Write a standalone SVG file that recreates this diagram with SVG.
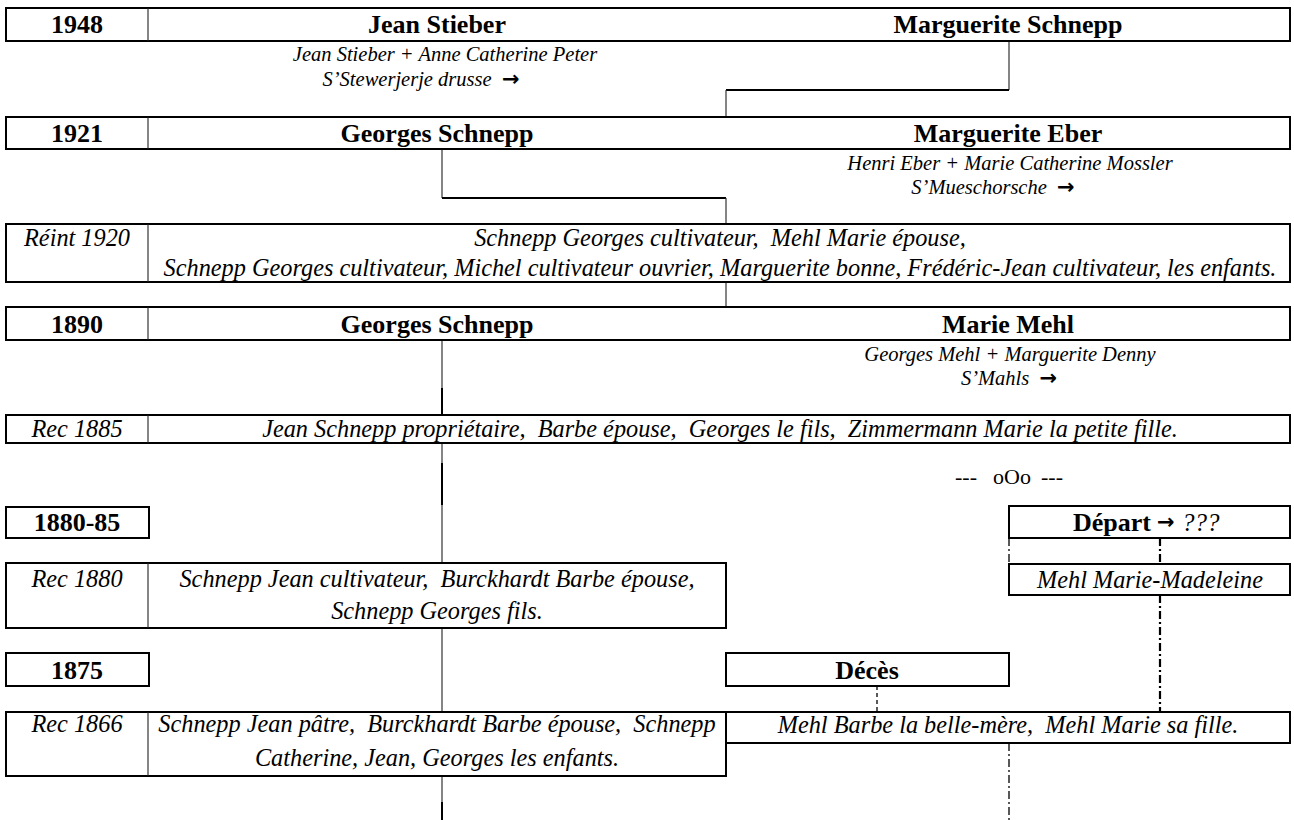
<svg xmlns="http://www.w3.org/2000/svg" width="1294" height="820" viewBox="0 0 1294 820" xml:space="preserve">
<style>
text{font-family:"Liberation Serif","Times New Roman",serif;fill:#000;white-space:pre}
.h{font-size:26px;font-weight:bold;text-anchor:middle}
.i{font-size:24.3px;font-style:italic;text-anchor:middle}
.p{font-size:20.5px;font-style:italic;text-anchor:middle}
.ar{font-family:"DejaVu Sans",sans-serif;font-style:normal;font-size:21px;font-weight:bold}
.box{fill:#fff;stroke:#000;stroke-width:2}
.dv{stroke:#222;stroke-width:1.1}
.tn{stroke:#333;stroke-width:1.2;fill:none}
.tk{stroke:#000;stroke-width:2;fill:none}
.dd{stroke:#000;stroke-width:1.3;stroke-dasharray:8 3 2 3;fill:none}
.ddk{stroke:#000;stroke-width:2.2;stroke-dasharray:8 3 2 3;fill:none}
.ds{stroke:#000;stroke-width:1.3;stroke-dasharray:4 3;fill:none}
</style>
<g id="connectors">
<path class="tn" d="M1009 41V90"/><path class="tk" d="M726 90H1009"/><path class="tn" d="M726 90V117"/>
<path class="tn" d="M442 149V198"/><path class="tk" d="M442 198H726"/><path class="tn" d="M726 198V224"/>
<path class="tn" d="M726 282V307"/>
<path class="tn" d="M442 340V388"/><path class="tk" d="M442 388V415"/>
<path class="tn" d="M442 443V463"/><path class="tk" d="M442 463V505"/><path class="tn" d="M442 505V563"/>
<path class="tn" d="M442 628V712"/>
<path class="tn" d="M442 776V802"/><path class="tk" d="M442 802V820"/>
<path class="dd" d="M1009 538V564"/><path class="ddk" d="M1160 538V564"/>
<path class="ddk" d="M1160 595V712"/>
<path class="ds" d="M877 686V712"/>
<path class="dd" d="M1009 743V820"/>
</g>
<g id="row-1948">
<rect class="box" x="6" y="8" width="1284" height="33"/><path class="dv" d="M148 8V41"/>
<text class="h" x="77" y="33">1948</text>
<text class="h" x="437" y="33">Jean Stieber</text>
<text class="h" x="1008" y="33">Marguerite Schnepp</text>
</g>
<g id="parents-stieber">
<text class="p" x="445" y="61">Jean Stieber + Anne Catherine Peter</text>
<text class="p" x="421" y="86">S’Stewerjerje drusse  <tspan class="ar">→</tspan></text>
</g>
<g id="row-1921">
<rect class="box" x="6" y="117" width="1284" height="32"/><path class="dv" d="M148 117V149"/>
<text class="h" x="77" y="142">1921</text>
<text class="h" x="437" y="142">Georges Schnepp</text>
<text class="h" x="1008" y="142">Marguerite Eber</text>
</g>
<g id="parents-eber">
<text class="p" x="1010" y="170">Henri Eber + Marie Catherine Mossler</text>
<text class="p" x="993" y="194">S’Mueschorsche  <tspan class="ar">→</tspan></text>
</g>
<g id="reint-1920">
<rect class="box" x="6" y="224" width="1284" height="58"/><path class="dv" d="M148 224V282"/>
<text class="i" x="77" y="246">Réint 1920</text>
<text class="i" x="720" y="246">Schnepp Georges cultivateur,  Mehl Marie épouse,</text>
<text class="i" x="720" y="276">Schnepp Georges cultivateur, Michel cultivateur ouvrier, Marguerite bonne, Frédéric-Jean cultivateur, les enfants.</text>
</g>
<g id="row-1890">
<rect class="box" x="6" y="307" width="1284" height="33"/><path class="dv" d="M148 307V340"/>
<text class="h" x="77" y="333">1890</text>
<text class="h" x="437" y="333">Georges Schnepp</text>
<text class="h" x="1008" y="333">Marie Mehl</text>
</g>
<g id="parents-mehl">
<text class="p" x="1010" y="361">Georges Mehl + Marguerite Denny</text>
<text class="p" x="1009" y="385">S’Mahls  <tspan class="ar">→</tspan></text>
</g>
<g id="rec-1885">
<rect class="box" x="6" y="415" width="1284" height="28"/><path class="dv" d="M148 415V443"/>
<text class="i" x="77" y="437">Rec 1885</text>
<text class="i" x="720" y="437">Jean Schnepp propriétaire,  Barbe épouse,  Georges le fils,  Zimmermann Marie la petite fille.</text>
</g>
<g id="separator">
<text x="966" y="484" font-size="22" text-anchor="middle">---</text>
<text x="1012" y="484" font-size="22" text-anchor="middle">oOo</text>
<text x="1052" y="484" font-size="22" text-anchor="middle">---</text>
</g>
<g id="row-1880-85">
<rect class="box" x="6" y="507" width="143" height="31"/>
<text class="h" x="77" y="531">1880-85</text>
</g>
<g id="depart">
<rect class="box" x="1009" y="506" width="281" height="32"/>
<text x="1073" y="531" font-size="26" font-weight="bold">Départ</text>
<text class="ar" x="1157" y="529">→</text>
<text x="1182" y="531" font-size="25" font-style="italic">???</text>
</g>
<g id="rec-1880">
<rect class="box" x="6" y="563" width="720" height="65"/><path class="dv" d="M148 563V628"/>
<text class="i" x="77" y="587">Rec 1880</text>
<text class="i" x="437" y="587">Schnepp Jean cultivateur,  Burckhardt Barbe épouse,</text>
<text class="i" x="437" y="619">Schnepp Georges fils.</text>
</g>
<g id="marie-madeleine">
<rect class="box" x="1009" y="564" width="281" height="31"/>
<text class="i" x="1150" y="588">Mehl Marie-Madeleine</text>
</g>
<g id="row-1875">
<rect class="box" x="6" y="653" width="143" height="33"/>
<text class="h" x="77" y="679">1875</text>
</g>
<g id="deces">
<rect class="box" x="726" y="653" width="283" height="33"/>
<text class="h" x="867" y="679">Décès</text>
</g>
<g id="rec-1866">
<rect class="box" x="6" y="712" width="720" height="64"/><path class="dv" d="M148 712V776"/>
<text class="i" x="77" y="732">Rec 1866</text>
<text class="i" x="437" y="732">Schnepp Jean pâtre,  Burckhardt Barbe épouse,  Schnepp</text>
<text class="i" x="437" y="766">Catherine, Jean, Georges les enfants.</text>
</g>
<g id="mehl-barbe">
<rect class="box" x="726" y="712" width="564" height="31"/>
<text class="i" x="1008" y="733">Mehl Barbe la belle-mère,  Mehl Marie sa fille.</text>
</g>
</svg>
